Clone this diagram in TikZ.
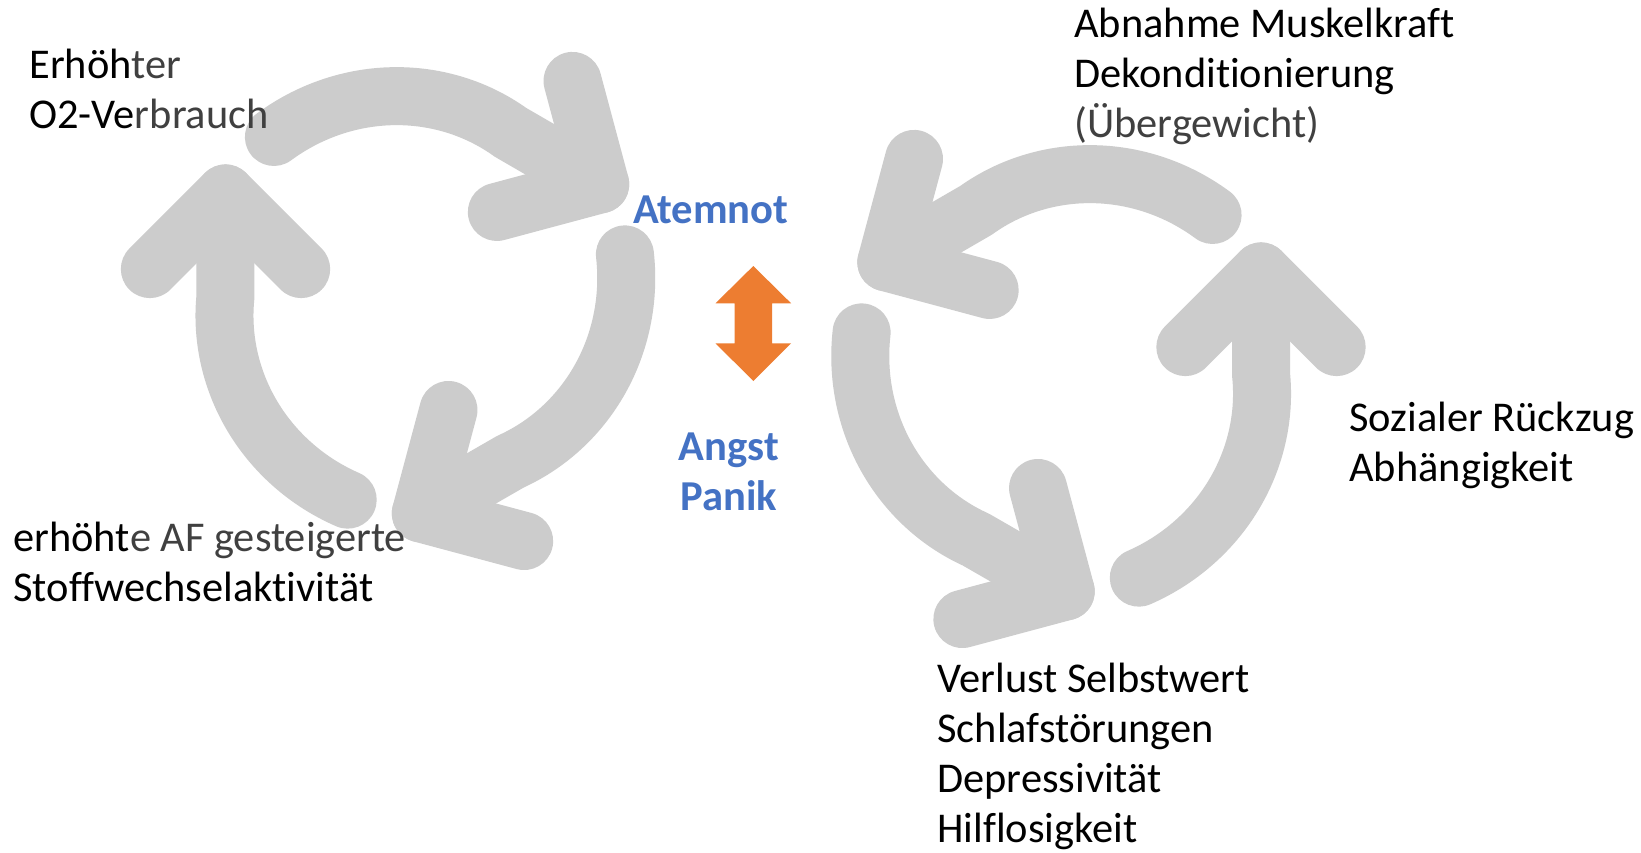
\documentclass[tikz,border=0pt]{standalone}
\usepackage{fontspec}
\setmainfont{Carlito}[Ligatures=NoCommon]
\definecolor{arrowgray}{HTML}{CCCCCC}
\definecolor{txtblue}{HTML}{4472C4}
\definecolor{txtorange}{HTML}{ED7D31}
\definecolor{txtgray}{HTML}{404040}
\newcommand\cycarrow{%
  \draw[cyc] plot[domain=131.5:60, samples=60, variable=\t]
    ({(200+0.33*(\t-90))*cos(\t)}, {(200+0.33*(\t-90))*sin(\t)}) -- (31.4:216.4);
  \draw[cyc] (31.4:216.4) ++(105:107) -- (31.4:216.4) -- ++(195:107);
}
\begin{document}
\begin{tikzpicture}[x=0.5pt,y=0.5pt,
  cyc/.style={draw=arrowgray, line width=29pt, line cap=round, line join=round},
  lbl/.style={anchor=base west, inner sep=0pt, font=\fontsize{21.2pt}{25pt}\selectfont, text=black},
  key/.style={anchor=base, inner sep=0pt, font=\bfseries\fontsize{21.3pt}{25pt}\selectfont, text=txtblue}]
\fill[white] (0,0) rectangle (1641,-852);
\useasboundingbox (0,0) rectangle (1641,-852);

\foreach \k in {0,120,240}{
  \begin{scope}[shift={(415.5,-297)}, rotate=\k] \cycarrow \end{scope}
  \begin{scope}[shift={(1071,-375)}, xscale=-1, rotate=\k] \cycarrow \end{scope}
}

\fill[txtorange] (753.3,-266) -- (791.1,-303.3) -- (772.1,-303.3) -- (772.1,-343.3)
  -- (791.1,-343.3) -- (753.3,-381) -- (715.5,-343.3) -- (734.5,-343.3)
  -- (734.5,-303.3) -- (715.5,-303.3) -- cycle;

\node[lbl] (t1) at (29,-78.3) {Erhöh\textcolor{txtgray}{ter}};
\node[lbl] (t2) at (29,-128.3) {O2-Ve\textcolor{txtgray}{rbrauch}};
\node[lbl] (t3) at (13,-551) {erhöht\textcolor{txtgray}{e AF gesteigerte}};
\node[lbl] (t4) at (13,-601.2) {Stoffwechselaktivität};
\node[lbl] (t5) at (1074,-37) {Abnahme Muskelkraft};
\node[lbl] (t6) at (1074,-87.2) {Dekonditionierung};
\node[lbl] (t7) at (1074,-137.4) {\textcolor{txtgray}{(Übergewicht)}};
\node[lbl] (t8) at (1349,-431.5) {Sozialer Rückzug};
\node[lbl] (t9) at (1349,-481.7) {Abhängigkeit};
\node[lbl] (t10) at (937,-692) {Verlust Selbstwert};
\node[lbl] (t11) at (937,-742.2) {Schlafstörungen};
\node[lbl] (t12) at (937,-792.4) {Depressivität};
\node[lbl] (t13) at (937,-842.6) {Hilflosigkeit};
\node[key] (k1) at (710.8,-223) {Atemnot};
\node[key] (k2) at (729,-460.5) {Angst};
\node[key] (k3) at (729,-510.5) {Panik};
\end{tikzpicture}
\end{document}
